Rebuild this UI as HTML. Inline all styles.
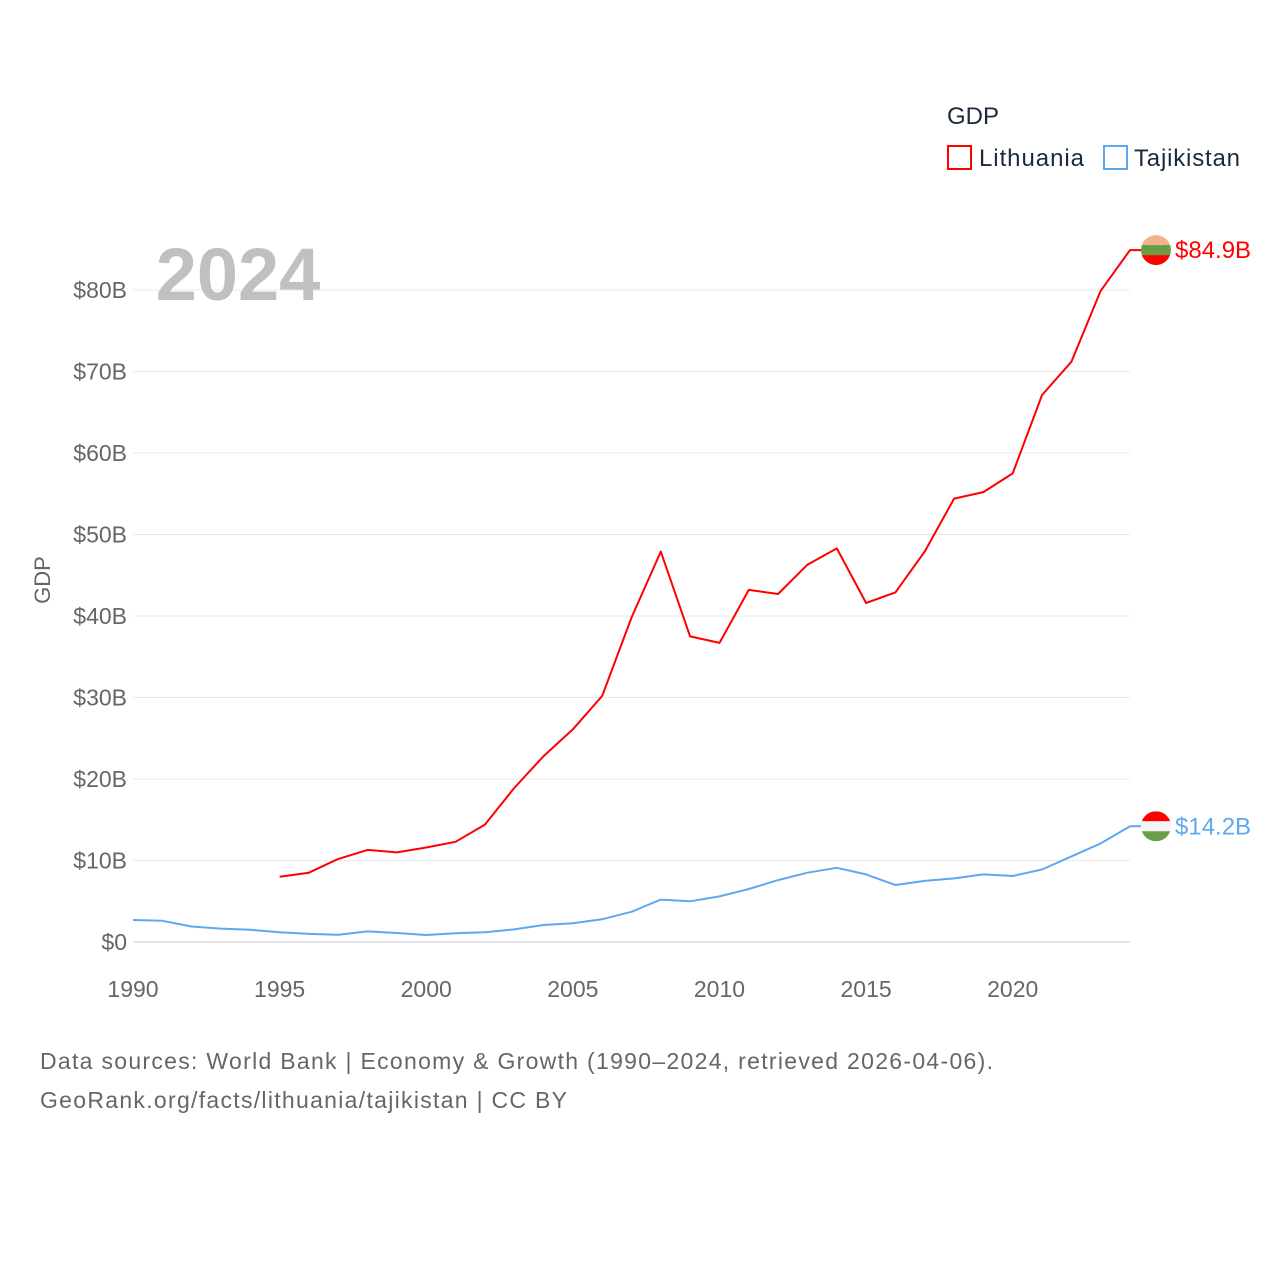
<!DOCTYPE html>
<html><head><meta charset="utf-8"><style>
body{margin:0;background:#fff;}
svg text{font-family:"Liberation Sans",sans-serif;}
</style></head><body>
<svg id="chart" width="1280" height="1280" viewBox="0 0 1280 1280" xmlns="http://www.w3.org/2000/svg">
<rect width="1280" height="1280" fill="#fff"/>
<g id="grid"></g>
<g id="yticks"></g>
<g id="xticks"></g>
<text x="238" y="300" font-size="74" font-weight="bold" fill="#c0c0c0" text-anchor="middle">2024</text>
<text x="50" y="580" font-size="22" fill="#666" text-anchor="middle" transform="rotate(-90 50 580)">GDP</text>
<g id="series"></g>
<g>
<text x="947" y="124" font-size="24" fill="#1a2a3a">GDP</text>
<g><rect x="948" y="146" width="23" height="23" fill="none" stroke="#ff0000" stroke-width="2"/><text x="979" y="166" font-size="24" fill="#1a2a3a" textLength="105">Lithuania</text></g>
<g><rect x="1104" y="146" width="23" height="23" fill="none" stroke="#5da9f0" stroke-width="2"/><text x="1134" y="166" font-size="24" fill="#1a2a3a" textLength="106">Tajikistan</text></g>
</g>
<text x="40" y="1069" font-size="23" fill="#666" textLength="953">Data sources: World Bank | Economy &amp; Growth (1990–2024, retrieved 2026-04-06).</text>
<text x="40" y="1108" font-size="23" fill="#666" textLength="527">GeoRank.org/facts/lithuania/tajikistan | CC BY</text>
</svg>
<script>
const years = [];
for (let y = 1990; y <= 2024; y++) years.push(y);
const lithuania = [null,null,null,null,null,8.0,8.5,10.2,11.3,11.0,11.6,12.3,14.4,18.9,22.8,26.1,30.2,39.8,47.9,37.5,36.7,43.2,42.7,46.3,48.3,41.6,42.9,47.9,54.4,55.2,57.5,67.1,71.2,79.9,84.9];
const tajikistan = [2.7,2.6,1.9,1.65,1.5,1.2,1.0,0.9,1.3,1.1,0.86,1.08,1.2,1.55,2.08,2.3,2.8,3.7,5.2,5.0,5.6,6.5,7.6,8.5,9.1,8.3,7.0,7.5,7.8,8.3,8.1,8.9,10.5,12.1,14.2];
const yTicks = [0,10,20,30,40,50,60,70,80];
const xTicks = [1990,1995,2000,2005,2010,2015,2020];
const ns = "http://www.w3.org/2000/svg";
const X = v => 133 + (v - 1990) * (1130 - 133) / 34;
const Y = v => 942 - v * (942 - 290) / 80;
function mk(tag, attrs, parent){const e=document.createElementNS(ns,tag);for(const k in attrs)e.setAttribute(k,attrs[k]);parent.appendChild(e);return e;}
const grid=document.getElementById('grid'), yt=document.getElementById('yticks'), xt=document.getElementById('xticks'), ser=document.getElementById('series');
yTicks.forEach(t=>{
  const l=mk('line',{x1:133,x2:1130,y1:Y(t),y2:Y(t),stroke:t===0?'#ccc':'#e8e8e8','stroke-width':1},grid);
  
  
  const tx=mk('text',{x:127,y:Y(t)+8,'font-size':23,fill:'#666','text-anchor':'end'},yt);
  tx.textContent='$'+t+(t?'B':'');
  
  
});
xTicks.forEach(t=>{
  const tx=mk('text',{x:X(t),y:997,'font-size':23,fill:'#666','text-anchor':'middle'},xt);
  tx.textContent=t;
  
  
});
function line(data,color,name){
  let d='';
  data.forEach((v,i)=>{if(v==null)return;d+=(d?'L':'M')+X(years[i]).toFixed(1)+','+Y(v).toFixed(1);});
  d+='L1141,'+Y(data[data.length-1]).toFixed(1);
  const p=mk('path',{d:d,fill:'none',stroke:color,'stroke-width':2,'stroke-linejoin':'round'},ser);
  
  
}
line(lithuania,'#ff0000','lithuania');
line(tajikistan,'#5da9f0','tajikistan');
function flag(v,cols,label,color,name){
  const cx=1156, cy=Y(v);
  const g=mk('g',{},ser);
  
  
  const id='c'+name;
  const cp=mk('clipPath',{id:id},g);mk('circle',{cx:cx,cy:cy,r:15},cp);
  cols.forEach((c,i)=>mk('rect',{x:cx-15,y:cy-15+i*10,width:30,height:10,fill:c,'clip-path':'url(#'+id+')'},g));
  const t=mk('text',{x:1175,y:cy+8,'font-size':24,fill:color},ser);
  t.textContent=label;
  
  
}
flag(lithuania[34],['#f5b08c','#6a9e45','#ff0000'],'$'+lithuania[34]+'B','#ff0000','lithuania');
flag(tajikistan[34],['#ff0000','#f4f4f4','#6a9e45'],'$'+tajikistan[34]+'B','#5da9f0','tajikistan');
</script>
</body></html>
